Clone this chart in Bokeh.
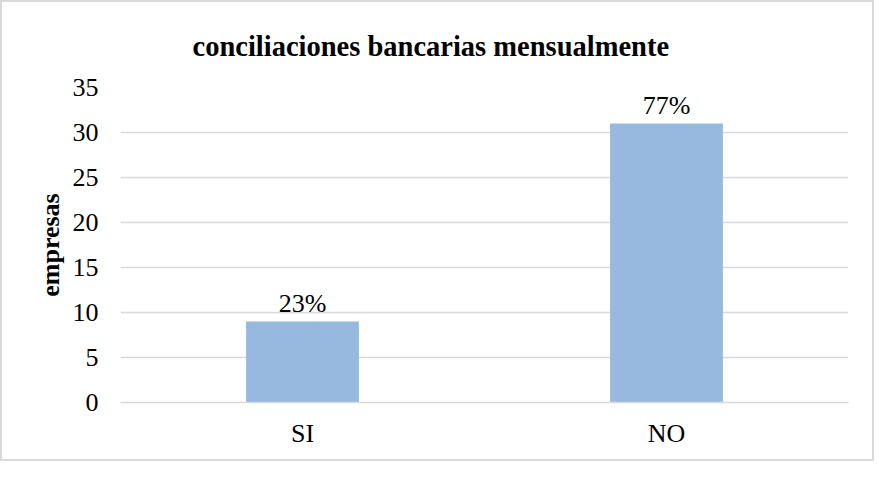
from bokeh.plotting import figure
from bokeh.layouts import column
from bokeh.models import ColumnDataSource, LabelSet, Range1d, FixedTicker
from bokeh.embed import file_html
from bokeh.resources import INLINE

categories = ["SI", "NO"]
values = [9, 31]
pct_labels = ["23%", "77%"]
y_ticks = [0, 5, 10, 15, 20, 25, 30, 35]

FONT = "Liberation Serif"
W, H = 870, 457

source = ColumnDataSource(data=dict(cat=categories, val=values, lab=pct_labels))

p = figure(x_range=categories, y_range=Range1d(0, 35), width=W, height=H,
           output_backend="svg", toolbar_location=None,
           title="conciliaciones bancarias mensualmente",
           min_border_left=118, min_border_right=24, min_border_top=83, min_border_bottom=57)

p.vbar(x="cat", top="val", width=0.31, source=source, fill_color="#97B8DF", line_color=None)

labels = LabelSet(x="cat", y="val", text="lab", source=source, text_align="center",
                  text_baseline="alphabetic", y_offset=10, text_font=FONT,
                  text_font_size="26px", text_color="#000000")
p.add_layout(labels)

p.title.text_font = FONT
p.title.text_font_size = "28.5px"
p.title.text_font_style = "bold"
p.title.align = "left"
p.title.offset = 72
p.title.standoff = 52
p.title.text_color = "#000000"

p.yaxis.ticker = FixedTicker(ticks=y_ticks)
p.yaxis.axis_label = "empresas"
p.yaxis.axis_label_text_font = FONT
p.yaxis.axis_label_text_font_size = "26px"
p.yaxis.axis_label_text_font_style = "bold"
p.yaxis.axis_label_text_color = "#000000"
p.yaxis.axis_label_standoff = 5
p.yaxis.axis_line_color = None
p.yaxis.major_tick_line_color = None
p.yaxis.minor_tick_line_color = None
p.yaxis.major_label_text_font = FONT
p.yaxis.major_label_text_font_size = "26px"
p.yaxis.major_label_text_color = "#000000"
p.yaxis.major_label_standoff = 16

p.xaxis.axis_line_color = "#D9D9D9"
p.xaxis.axis_line_width = 1.5
p.xaxis.major_tick_line_color = None
p.xaxis.minor_tick_line_color = None
p.xaxis.major_label_text_font = FONT
p.xaxis.major_label_text_font_size = "26px"
p.xaxis.major_label_text_color = "#000000"
p.xaxis.major_label_standoff = 10

p.xgrid.grid_line_color = None
p.ygrid.grid_line_color = "#D9D9D9"
p.ygrid.grid_line_width = 1.5

p.outline_line_color = None
p.background_fill_color = "white"
p.border_fill_color = "white"

layout = column(p, styles={"border": "2px solid #D9D9D9", "width": "fit-content"})

open("out.html", "w").write(file_html(layout, INLINE))
